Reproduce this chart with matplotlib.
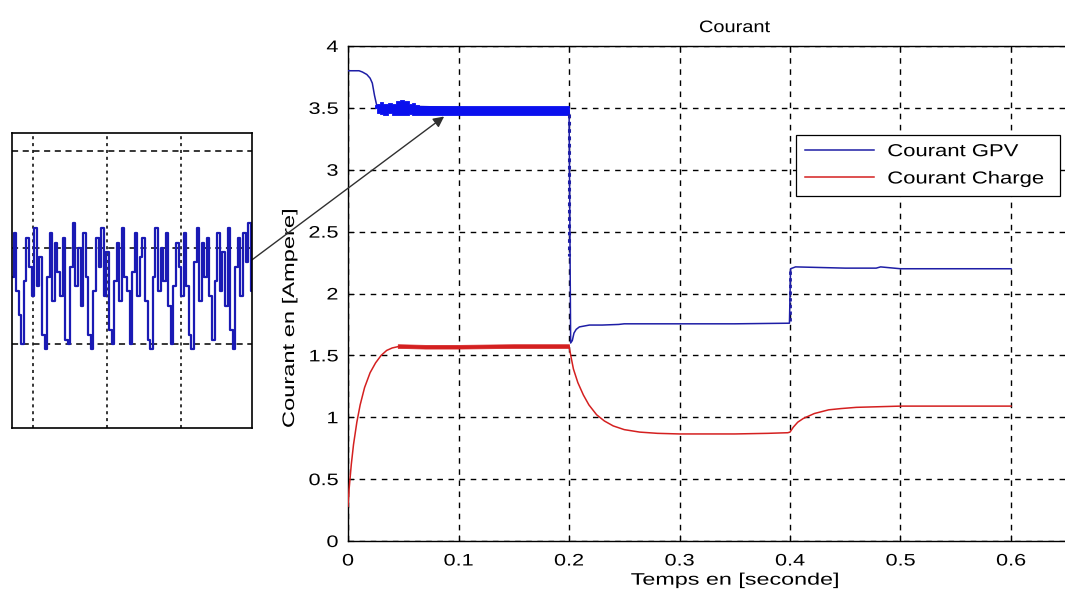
import numpy as np
import matplotlib
matplotlib.use("Agg")
import matplotlib.pyplot as plt
from matplotlib.patheffects import AbstractPathEffect
from matplotlib.transforms import Affine2D

plt.rcParams['font.family'] = ['Liberation Sans', 'DejaVu Sans']

# courant GPV (trait fin)
t_gpv = [0.0, 0.010, 0.013, 0.017, 0.020, 0.022, 0.024, 0.026,
         0.200, 0.2001, 0.2015, 0.203, 0.2045, 0.2065, 0.2094, 0.2185, 0.23,
         0.245, 0.25, 0.30, 0.35, 0.3995, 0.4005, 0.405, 0.45, 0.478, 0.482,
         0.50, 0.55, 0.60]
i_gpv = [3.80, 3.80, 3.79, 3.77, 3.74, 3.70, 3.60, 3.52,
         3.48, 3.45, 1.60, 1.62, 1.68, 1.71, 1.73, 1.745, 1.745,
         1.75, 1.755, 1.755, 1.755, 1.76, 2.20, 2.215, 2.205, 2.205, 2.215,
         2.20, 2.20, 2.20]

# enveloppe de l'ondulation du courant GPV (bande epaisse)
t_band = [0.024, 0.026, 0.029, 0.032, 0.036, 0.040, 0.043, 0.047, 0.051,
          0.055, 0.058, 0.061, 0.064, 0.2]
band_hi = [3.52, 3.53, 3.545, 3.53, 3.54, 3.535, 3.555, 3.56, 3.555,
           3.535, 3.54, 3.52, 3.515, 3.515]
band_lo = [3.50, 3.46, 3.45, 3.445, 3.455, 3.44, 3.445, 3.44, 3.445,
           3.45, 3.445, 3.445, 3.445, 3.445]

# courant charge
t_ch = [0.0, 0.001, 0.003, 0.005, 0.008, 0.011, 0.015, 0.020, 0.025, 0.030,
        0.035, 0.040, 0.045, 0.050, 0.060, 0.070, 0.10, 0.15, 0.20,
        0.202, 0.204, 0.208, 0.213, 0.218, 0.225, 0.232, 0.24, 0.25,
        0.264, 0.28, 0.30, 0.35, 0.38, 0.398, 0.40, 0.403, 0.407, 0.412,
        0.422, 0.435, 0.446, 0.46, 0.48, 0.50, 0.55, 0.60]
i_ch = [0.28, 0.42, 0.62, 0.78, 0.96, 1.10, 1.24, 1.36, 1.44, 1.50,
        1.54, 1.56, 1.57, 1.575, 1.57, 1.565, 1.565, 1.57, 1.575,
        1.48, 1.39, 1.28, 1.18, 1.10, 1.02, 0.97, 0.93, 0.90,
        0.88, 0.87, 0.865, 0.865, 0.87, 0.875, 0.88, 0.92, 0.96, 0.99,
        1.03, 1.06, 1.07, 1.08, 1.085, 1.09, 1.09, 1.09]

# ondulation du courant charge
t_chb = [0.045, 0.07, 0.10, 0.15, 0.20]
chb_hi = [1.59, 1.585, 1.585, 1.59, 1.59]
chb_lo = [1.56, 1.555, 1.555, 1.56, 1.56]

# zoom sur l'ondulation (encart)
inset_vals = [3.474, 3.483, 3.471, 3.466, 3.460, 3.473, 3.482, 3.476,
              3.470, 3.484, 3.472, 3.478, 3.462, 3.459, 3.474, 3.483,
              3.469, 3.481, 3.475, 3.470, 3.482, 3.461, 3.460, 3.476,
              3.485, 3.472, 3.480, 3.468, 3.483, 3.474, 3.462, 3.459,
              3.471, 3.482, 3.476, 3.484, 3.470, 3.479, 3.463, 3.460,
              3.473, 3.481, 3.469, 3.484, 3.474, 3.471, 3.460, 3.475,
              3.483, 3.470, 3.478, 3.482, 3.469, 3.461, 3.459, 3.474,
              3.484, 3.471, 3.480, 3.473, 3.483, 3.468, 3.460, 3.472,
              3.481, 3.476, 3.470, 3.483, 3.472, 3.462, 3.459, 3.477,
              3.484, 3.469, 3.481, 3.474, 3.482, 3.470, 3.461, 3.473,
              3.483, 3.471, 3.479, 3.468, 3.484, 3.463, 3.459, 3.476,
              3.482, 3.470, 3.483, 3.477, 3.485, 3.471]

xticks = [0, 0.1, 0.2, 0.3, 0.4, 0.5, 0.6]
xticklabels = ['0', '0.1', '0.2', '0.3', '0.4', '0.5', '0.6']
yticks = [0, 0.5, 1, 1.5, 2, 2.5, 3, 3.5, 4]
yticklabels = ['0', '0.5', '1', '1.5', '2', '2.5', '3', '3.5', '4']

blue = '#1e1ea6'
blue_band = '#0a10ee'
red = '#d42020'


class Stretch(AbstractPathEffect):
    # elargit le texte dans le sens de l'ecriture (rendu type MATLAB/Windows)
    def __init__(self, sx, anchor='center'):
        super().__init__()
        self.sx = sx
        self.anchor = anchor

    def draw_path(self, renderer, gc, tpath, affine, rgbFace=None):
        ext = tpath.get_extents()
        if self.anchor == 'left':
            cx = ext.x0
        elif self.anchor == 'right':
            cx = ext.x1
        else:
            cx = 0.5 * (ext.x0 + ext.x1)
        pre = Affine2D().translate(-cx, 0).scale(self.sx, 1).translate(cx, 0)
        renderer.draw_path(gc, tpath, pre + affine, rgbFace)


fig = plt.figure(figsize=(10.65, 5.92), dpi=100)
W, H = 1065, 592

# axe principal (deborde a droite comme la capture d'origine)
ax = fig.add_axes([348 / W, 1 - 541 / H, 773.5 / W, 495 / H])
ax.plot(t_gpv, i_gpv, color=blue, lw=1.1, label='Courant GPV', zorder=3)
ax.fill_between(t_band, band_lo, band_hi, step='post', color=blue_band, lw=0.6, zorder=3)
ax.plot([0.2, 0.2], [3.45, 2.3], color=blue, lw=2.2, ls=(0, (1.2, 1.2)), zorder=3)
ax.plot([0.4, 0.4], [1.78, 2.18], color=blue, lw=2.0, ls=(0, (1.2, 1.2)), zorder=3)
ax.plot(t_ch, i_ch, color=red, lw=1.1, label='Courant Charge', zorder=3)
ax.fill_between(t_chb, chb_lo, chb_hi, color=red, lw=0.5, zorder=3)

ax.set_xlim(0, 0.7)
ax.set_ylim(0, 4)
ax.set_xticks(xticks)
ax.set_xticklabels(xticklabels)
ax.set_yticks(yticks)
ax.set_yticklabels(yticklabels)
ax.tick_params(direction='in', length=4, width=0.8, top=True, right=True,
               labelsize=12, colors='black')
ax.tick_params(axis='x', pad=9)
ax.tick_params(axis='y', pad=7)
ax.grid(True, color='black', ls=(0, (4, 4)), lw=1.0)
for s in ax.spines.values():
    s.set_linewidth(1.0)
    s.set_color('black')

for lbl in ax.get_xticklabels():
    lbl.set_path_effects([Stretch(1.3)])
for lbl in ax.get_yticklabels():
    lbl.set_path_effects([Stretch(1.3, 'right')])

ttl = ax.set_title('Courant', fontsize=12, pad=10)
ttl.set_path_effects([Stretch(1.2)])
xl = ax.set_xlabel('Temps en [seconde]', fontsize=12, labelpad=3)
xl.set_path_effects([Stretch(1.4)])
yl = ax.set_ylabel('Courant en [Ampere]', fontsize=12)
yl.set_path_effects([Stretch(1.42)])
ax.yaxis.set_label_coords(-51 / 773.5, 0.45)

leg = ax.legend(loc='upper left', bbox_to_anchor=(796 / W, 1 - 196 / H, 264 / W, 61 / H),
                bbox_transform=fig.transFigure, mode='expand', borderaxespad=0,
                fancybox=False, framealpha=1, edgecolor='black', fontsize=12.5,
                handlelength=4.0, handletextpad=0.75, labelspacing=0.7, borderpad=0.52)
leg.get_frame().set_linewidth(0.9)
for txt in leg.get_texts():
    txt.set_path_effects([Stretch(1.27, 'left')])

# encart
axi = fig.add_axes([12 / W, 1 - 428 / H, 240 / W, 295 / H])
xi = np.linspace(0.72, 3.96, len(inset_vals))
axi.plot(xi, inset_vals, color='#1a1ab4', lw=1.6, drawstyle='steps-mid')
axi.set_xlim(0.716, 3.96)
axi.set_ylim(3.4427, 3.5037)
axi.set_xticks([1, 2, 3])
axi.set_yticks([3.46, 3.48, 3.50])
axi.tick_params(length=0, labelbottom=False, labelleft=False)
axi.xaxis.grid(True, color='black', ls=(0, (2, 2.5)), lw=1.1)
axi.yaxis.grid(True, color='black', ls=(0, (4, 3)), lw=1.1)
for s in axi.spines.values():
    s.set_linewidth(1.2)
    s.set_color('black')

# fleche encart -> bande
ax.annotate('', xy=(0.087, 3.43), xycoords='data',
            xytext=(1.0, 0.57), textcoords=axi.transAxes,
            arrowprops=dict(arrowstyle='-|>', color='#303030', lw=1.0,
                            mutation_scale=16, shrinkA=0, shrinkB=0))

fig.savefig('out.png', dpi=100)
